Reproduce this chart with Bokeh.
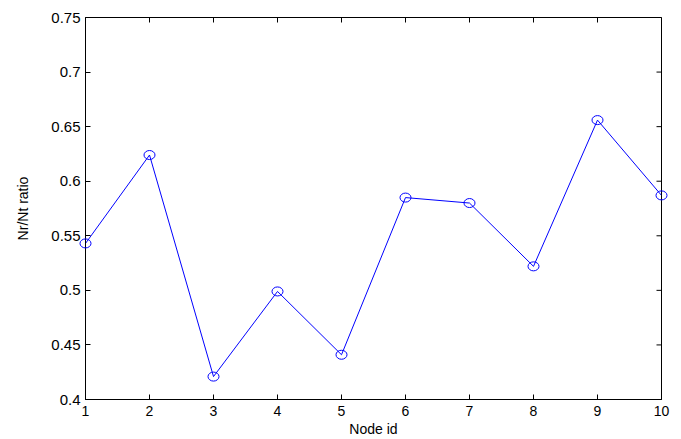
import math
from bokeh.plotting import figure
from bokeh.models import Range1d, FixedTicker
from bokeh.embed import file_html
from bokeh.resources import INLINE

# ---- data ----
node_ids = [1, 2, 3, 4, 5, 6, 7, 8, 9, 10]
ratios = [0.543, 0.624, 0.421, 0.499, 0.441, 0.585, 0.580, 0.522, 0.656, 0.587]
x_ticks = [1, 2, 3, 4, 5, 6, 7, 8, 9, 10]
y_ticks = [0.4, 0.45, 0.5, 0.55, 0.6, 0.65, 0.7, 0.75]
y_tick_labels = ["0.4", "0.45", "0.5", "0.55", "0.6", "0.65", "0.7", "0.75"]
x_label = "Node id"
y_label = "Nr/Nt ratio"

FONT = "Liberation Sans"
X0, X1 = x_ticks[0], x_ticks[-1]
Y0, Y1 = y_ticks[0], y_ticks[-1]

p = figure(width=681, height=439, output_backend="svg", toolbar_location=None,
           x_range=Range1d(X0, X1), y_range=Range1d(Y0, Y1),
           min_border_left=85, min_border_right=20, min_border_top=17,
           min_border_bottom=40, background_fill_color="white",
           border_fill_color="white")
p.grid.visible = False
p.outline_line_color = "black"
p.outline_line_width = 1

xa = p.xaxis[0]
ya = p.yaxis[0]
xa.ticker = FixedTicker(ticks=x_ticks)
ya.ticker = FixedTicker(ticks=y_ticks)
ya.major_label_overrides = dict(zip(y_ticks, y_tick_labels))
xa.axis_label = x_label
ya.axis_label = y_label

for ax in (xa, ya):
    ax.major_tick_in = 5
    ax.major_tick_out = 0
    ax.minor_tick_line_color = None
    ax.axis_line_color = "black"
    ax.major_tick_line_color = "black"
    ax.major_label_text_font = FONT
    ax.major_label_text_color = "black"
    ax.axis_label_text_font = FONT
    ax.axis_label_text_font_style = "normal"
    ax.axis_label_text_color = "black"

xa.major_label_text_font_size = "14px"
xa.major_label_standoff = 6
xa.axis_label_standoff = 2
xa.axis_label_text_font_size = "14px"
ya.major_label_text_font_size = "15px"
ya.major_label_standoff = 5
ya.axis_label_standoff = 17
ya.axis_label_text_font_size = "14px"

# inward ticks on the top and right edges of the box (clipped to the frame)
p.scatter(x_ticks, [Y1] * len(x_ticks), marker="dash", angle=math.pi / 2,
          size=10, line_color="black", line_width=1)
p.scatter([X1] * len(y_ticks), y_ticks, marker="dash",
          size=10, line_color="black", line_width=1)

p.line(node_ids, ratios, line_color="#0000ff", line_width=1)
p.ellipse(node_ids, ratios, width=11, height=9, width_units="screen",
          height_units="screen", fill_color=None, line_color="#0000ff",
          line_width=1, level="overlay")

open("out.html", "w").write(file_html(p, INLINE))
